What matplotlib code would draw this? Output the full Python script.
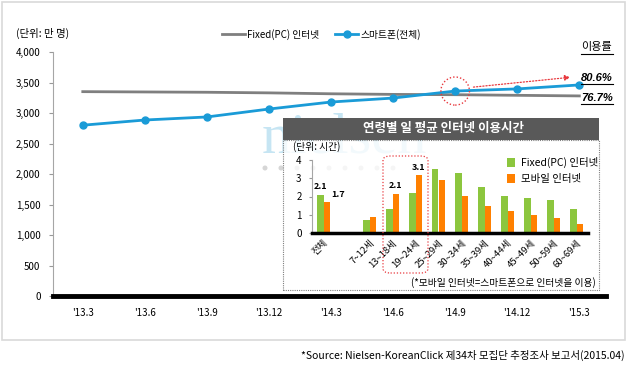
import numpy as np
import matplotlib.pyplot as plt
from matplotlib.patches import Rectangle, Ellipse, FancyBboxPatch

plt.rcParams['font.family'] = ['Noto Sans CJK KR', 'DejaVu Sans']

W, H = 630, 371

# main chart data (unit: 10,000 persons)
months = ["'13.3", "'13.6", "'13.9", "'13.12", "'14.3", "'14.6", "'14.9", "'14.12", "'15.3"]
pc_users = [3350, 3345, 3340, 3330, 3315, 3305, 3300, 3290, 3280]
phone_users = [2800, 2885, 2935, 3065, 3180, 3245, 3360, 3395, 3460]

# inset data (unit: hours)
ages = ['전체', '', '7~12세', '13~18세', '19~24세', '25~29세', '30~34세',
        '35~39세', '40~44세', '45~49세', '50~59세', '60~69세']
pc_hours = [2.1, 0, 0.73, 1.33, 2.2, 3.5, 3.3, 2.53, 2.04, 1.93, 1.82, 1.33]
mobile_hours = [1.7, 0, 0.85, 2.15, 3.18, 2.9, 2.04, 1.49, 1.22, 1.0, 0.84, 0.5]


def box(l, t, r, b):
    # pixel box -> figure fraction [left, bottom, width, height]
    return [l / W, 1 - b / H, (r - l) / W, (b - t) / H]


fig = plt.figure(figsize=(W / 100, H / 100), dpi=100)

# outer frame
fig.patches.append(Rectangle((1.5 / W, 1 - 340 / H), 623 / W, 338 / H,
                             transform=fig.transFigure, fill=False,
                             ec='#d9d9d9', lw=1.2))

# watermark
fig.text(262 / W, 1 - 138 / H, 'nielsen', fontsize=42, family='Liberation Serif',
         color='#c6e5f3', va='center', zorder=0.5)
for dx in range(265, 405, 16):
    fig.patches.append(Ellipse((dx / W, 1 - 168 / H), 5 / W, 5 / H,
                               transform=fig.transFigure, fc='#d6d6d6',
                               ec='none', zorder=0.5))

ax = fig.add_axes(box(53, 52, 606, 296))
ax.set_zorder(1)
ax.patch.set_alpha(0)
x = np.arange(len(months))
ax.plot(x, pc_users, color='#7f7f7f', lw=2, label='Fixed(PC) 인터넷', zorder=3)
ax.plot(x, phone_users, color='#1a9bd7', lw=2, marker='o', ms=5,
        label='스마트폰(전체)', zorder=4)
ax.set_ylim(0, 4000)
ax.set_xlim(-0.48, 8.43)
ax.set_yticks(range(0, 4001, 500))
ax.set_yticklabels([f'{v:,}' for v in range(0, 4001, 500)], fontsize=7)
ax.set_xticks(x)
ax.set_xticklabels(months, fontsize=7)
ax.tick_params(axis='x', length=0, pad=9)
ax.tick_params(axis='y', length=3, color='#999999', pad=6)
for s in ['top', 'right']:
    ax.spines[s].set_visible(False)
ax.spines['left'].set_color('#a6a6a6')
ax.spines['bottom'].set_color('black')
ax.spines['bottom'].set_linewidth(3.5)
ax.spines['bottom'].set_zorder(6)

leg = ax.legend(loc='upper center', bbox_to_anchor=(0.485, 1.13), ncol=2,
                frameon=False, fontsize=7, handlelength=2.4,
                columnspacing=1.6, handletextpad=0.2)

fig.text(16 / W, 1 - 33 / H, '(단위: 만 명)', fontsize=7.5, va='center')

# annotations on the right
fig.text(597 / W, 1 - 47 / H, '이용률', fontsize=8, ha='center', va='center')
fig.text(597 / W, 1 - 78 / H, '80.6%', fontsize=8, style='italic',
         family='Liberation Sans', weight='bold', ha='center', va='center')
fig.text(597 / W, 1 - 98 / H, '76.7%', fontsize=8, style='italic',
         family='Liberation Sans', weight='bold', ha='center', va='center')
for yy, x0, x1 in [(54, 581, 613), (84, 581, 613), (104, 581, 613)]:
    fig.lines.append(plt.Line2D([x0 / W, x1 / W], [1 - yy / H, 1 - yy / H],
                                transform=fig.transFigure, color='black', lw=0.8))

# red dotted circle and arrow
ax.add_patch(Ellipse((6, phone_users[6]), 0.46, 460, fill=False, ec='#e8383d',
                     ls=(0, (1, 1.5)), lw=1, zorder=5))
ax.annotate('', xy=(7.9, 3590), xytext=(6.25, 3420),
            arrowprops=dict(arrowstyle='-|>', color='#e8383d', lw=0.9,
                            ls=(0, (1, 1.5)), mutation_scale=8))

# inset panel
fig.patches.append(Rectangle((283 / W, 1 - 290 / H), 316 / W, 150 / H,
                             transform=fig.transFigure, fc=(1, 1, 1, 0.78),
                             ec='#7f7f7f', lw=0.8, ls=(0, (1, 1)), zorder=2))
fig.patches.append(Rectangle((283 / W, 1 - 140 / H), 316 / W, 22 / H,
                             transform=fig.transFigure, fc='#595959',
                             ec='none', zorder=2.5))
fig.text(443 / W, 1 - 129 / H, '연령별 일 평균 인터넷 이용시간', color='white',
         fontsize=9, weight='bold', ha='center', va='center', zorder=4)

ia = fig.add_axes(box(312, 160, 588, 233))
ia.set_zorder(3)
xi = np.arange(len(ages))
ia.bar(xi - 0.15, pc_hours, 0.3, color='#8cc63e', label='Fixed(PC) 인터넷')
ia.bar(xi + 0.15, mobile_hours, 0.3, color='#ff8000', label='모바일 인터넷')
ia.set_xlim(-0.5, 11.5)
ia.set_ylim(0, 4)
ia.set_yticks(range(5))
ia.tick_params(axis='y', labelsize=7, length=2.5, color='#999999', pad=5)
ia.set_xticks(xi)
ia.set_xticklabels(ages, rotation=45, ha='right', rotation_mode='anchor',
                   fontsize=6.8)
ia.tick_params(axis='x', length=0, pad=4)
ia.patch.set_alpha(0)
for s in ['top', 'right']:
    ia.spines[s].set_visible(False)
ia.spines['left'].set_color('#a6a6a6')
ia.spines['bottom'].set_linewidth(2.5)

for xv, yv, t in [(-0.15, 2.1, '2.1'), (0.65, 1.7, '1.7'),
                  (3.15, 2.15, '2.1'), (4.15, 3.18, '3.1')]:
    ia.text(xv, yv + 0.18, t, fontsize=6.5, weight='bold', ha='center',
            va='bottom')

ia.legend(loc='upper left', bbox_to_anchor=(498 / W, 1 - 148 / H),
          bbox_transform=fig.transFigure, frameon=False,
          fontsize=7.5, handlelength=0.7, handleheight=0.9, handletextpad=0.6,
          labelspacing=0.55)

fig.text(293 / W, 1 - 147 / H, '(단위: 시간)', fontsize=7, va='center', zorder=4)
fig.text(596 / W, 1 - 283 / H, '(*모바일 인터넷=스마트폰으로 인터넷을 이용)',
         fontsize=7, ha='right', va='center', zorder=4)

fig.patches.append(FancyBboxPatch((383 / W, 1 - 273 / H), 45 / W, 117 / H,
                                  boxstyle='round,pad=0,rounding_size=0.012',
                                  transform=fig.transFigure, fill=False,
                                  ec='#e8383d', lw=0.9, ls=(0, (1, 1.5)),
                                  zorder=4))

fig.text(625 / W, 1 - 355 / H,
         '*Source: Nielsen-KoreanClick 제34차 모집단 추정조사 보고서(2015.04)',
         fontsize=7.5, ha='right', va='center')

fig.savefig('out.png', dpi=100)
